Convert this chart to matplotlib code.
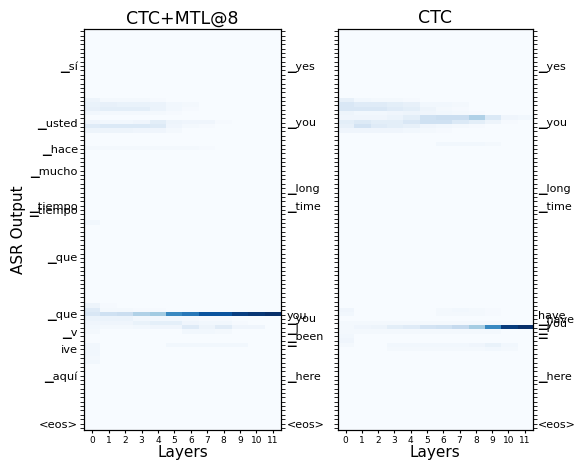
import numpy as np
import matplotlib
matplotlib.use("Agg")
import matplotlib.pyplot as plt

n_frames = 92  # rows (frames)
layers = list(range(12))

# tick labels: (row, text)
asr_rows = [8, 21, 27, 32, 40, 41, 52, 65, 69, 73, 79, 90]
asr_labels = ['\u2581sí', '\u2581usted', '\u2581hace', '\u2581mucho', '\u2581tiempo', '\u2581tiempo',
              '\u2581que', '\u2581que', '\u2581v', 'ive', '\u2581aquí', '<eos>']

mtl_rows = [8, 21, 36, 40, 65, 66, 68, 70, 71, 79, 90]
mtl_labels = ['\u2581yes', '\u2581you', '\u2581long', '\u2581time', 'you', '\u2581you', '\u2581I',
              '\u2581been', '\u2581', '\u2581here', '<eos>']

ctc_rows = [8, 21, 36, 40, 65, 66, 67, 68, 69, 79, 90]
ctc_labels = ['\u2581yes', '\u2581you', '\u2581long', '\u2581time', 'have', '\u2581have', '\u2581you',
              '\u2581I', '\u2581', '\u2581here', '<eos>']

# attention-like weights per row, layers 0..11 (rows not listed are ~0)
mtl_vals = {
    16: [0.05, 0.02, 0.02, 0.02, 0.01, 0, 0, 0, 0, 0, 0, 0],
    17: [0.07, 0.08, 0.07, 0.07, 0.06, 0.03, 0.02, 0, 0, 0, 0, 0],
    18: [0.08, 0.10, 0.10, 0.10, 0.06, 0.03, 0.01, 0, 0, 0, 0, 0],
    19: [0.03, 0.02, 0.02, 0.02, 0.02, 0.01, 0, 0, 0, 0, 0, 0],
    21: [0.04, 0.03, 0.03, 0.04, 0.10, 0.05, 0.04, 0.04, 0.01, 0, 0, 0],
    22: [0.12, 0.14, 0.14, 0.14, 0.13, 0.04, 0.02, 0.01, 0, 0, 0, 0],
    23: [0.05, 0.05, 0.05, 0.04, 0.04, 0.02, 0, 0, 0, 0, 0, 0],
    27: [0.02, 0.02, 0.02, 0.02, 0.02, 0.02, 0.02, 0.01, 0, 0, 0, 0],
    44: [0.03, 0, 0, 0, 0, 0, 0, 0, 0, 0, 0, 0],
    63: [0.05, 0.01, 0, 0, 0, 0, 0, 0, 0, 0, 0, 0],
    64: [0.12, 0.02, 0.02, 0.01, 0.01, 0, 0, 0, 0, 0, 0, 0],
    65: [0.15, 0.20, 0.22, 0.32, 0.36, 0.66, 0.72, 0.86, 0.86, 0.94, 0.97, 1.0],
    66: [0.06, 0.06, 0.06, 0.03, 0.03, 0.03, 0.02, 0.01, 0.01, 0, 0, 0],
    67: [0.04, 0.04, 0.04, 0.07, 0.09, 0.09, 0.04, 0.03, 0.03, 0.01, 0, 0],
    68: [0.03, 0.02, 0.02, 0.03, 0.04, 0.04, 0.12, 0.05, 0.11, 0.04, 0.04, 0],
    69: [0.02, 0, 0, 0, 0, 0, 0.03, 0.03, 0.02, 0, 0, 0],
    72: [0.03, 0, 0, 0, 0, 0.03, 0.03, 0.03, 0.03, 0.03, 0, 0],
    73: [0.03, 0, 0, 0, 0, 0, 0, 0, 0, 0, 0, 0],
    74: [0.03, 0, 0, 0, 0, 0, 0, 0, 0, 0, 0, 0],
    75: [0.02, 0, 0, 0, 0, 0, 0, 0, 0, 0, 0, 0],
    76: [0.03, 0, 0, 0, 0, 0, 0, 0, 0, 0, 0, 0],
}

ctc_vals = {
    16: [0.08, 0.03, 0.02, 0.02, 0.01, 0, 0, 0, 0, 0, 0, 0],
    17: [0.15, 0.12, 0.12, 0.10, 0.08, 0.03, 0.03, 0.02, 0, 0, 0, 0],
    18: [0.15, 0.15, 0.15, 0.12, 0.10, 0.05, 0.02, 0.01, 0, 0, 0, 0],
    19: [0.05, 0.03, 0.03, 0.04, 0.05, 0.04, 0.03, 0.02, 0.01, 0, 0, 0],
    20: [0.04, 0.04, 0.04, 0.06, 0.10, 0.20, 0.22, 0.22, 0.32, 0.14, 0.04, 0.03],
    21: [0.10, 0.13, 0.10, 0.10, 0.15, 0.20, 0.20, 0.14, 0.10, 0.05, 0.01, 0],
    22: [0.08, 0.18, 0.12, 0.10, 0.08, 0.04, 0.03, 0.02, 0.01, 0, 0, 0],
    23: [0.04, 0.04, 0.04, 0.04, 0.03, 0.02, 0.01, 0, 0, 0, 0, 0],
    26: [0, 0, 0, 0, 0, 0, 0.03, 0.03, 0.03, 0.02, 0, 0],
    64: [0.04, 0, 0, 0, 0, 0, 0.02, 0.03, 0.02, 0.01, 0, 0],
    65: [0.03, 0, 0, 0, 0, 0, 0.02, 0.02, 0.02, 0.01, 0, 0],
    67: [0.02, 0.02, 0.02, 0.02, 0.02, 0.02, 0.02, 0.02, 0.02, 0.02, 0.01, 0],
    68: [0.02, 0.04, 0.05, 0.10, 0.12, 0.18, 0.20, 0.25, 0.35, 0.66, 0.95, 1.0],
    69: [0.02, 0.02, 0.02, 0.02, 0.02, 0.02, 0.02, 0.02, 0.02, 0.02, 0, 0],
    70: [0.03, 0, 0, 0, 0, 0, 0, 0, 0, 0, 0, 0],
    71: [0.04, 0, 0, 0, 0, 0, 0, 0, 0, 0, 0, 0],
    72: [0.02, 0, 0, 0.03, 0.03, 0.03, 0.03, 0.03, 0.04, 0.07, 0.03, 0],
    73: [0, 0, 0, 0.02, 0.02, 0.02, 0.02, 0.02, 0.02, 0.03, 0.02, 0],
}


def build(vals):
    m = np.zeros((n_frames, len(layers)))
    for r, v in vals.items():
        m[r] = v
    return m


fig = plt.figure(figsize=(5.76, 4.61), dpi=100)
ax1 = fig.add_axes([0.146, 0.067, 0.342, 0.870])
ax2 = fig.add_axes([0.586, 0.067, 0.339, 0.870])

panels = [(ax1, mtl_vals, 'CTC+MTL@8', asr_rows, asr_labels, mtl_rows, mtl_labels),
          (ax2, ctc_vals, 'CTC', None, None, ctc_rows, ctc_labels)]

for ax, vals, title, lrows, llabels, rrows, rlabels in panels:
    ax.imshow(build(vals), cmap='Blues', vmin=0, vmax=1, aspect='auto',
              interpolation='nearest')
    ax.set_title(title, fontsize=12.5, pad=4)
    ax.set_xticks(layers)
    ax.set_xticklabels([str(i) for i in layers], fontsize=6.5)
    ax.set_xlabel('Layers', fontsize=11, labelpad=0)
    ax.set_yticks(range(n_frames), minor=True)
    if lrows is not None:
        ax.set_yticks(lrows)
        ax.set_yticklabels(llabels, fontsize=8.2)
    else:
        ax.set_yticks([])
    ax.tick_params(axis='y', which='both', length=3, width=0.6, pad=1.5)
    ax.tick_params(axis='x', length=2, pad=2)

    tw = ax.twinx()
    tw.set_ylim(ax.get_ylim())
    tw.set_yticks(range(n_frames), minor=True)
    tw.set_yticks(rrows)
    tw.set_yticklabels(rlabels, fontsize=8)
    tw.tick_params(axis='y', which='both', length=3, width=0.6, pad=1)

ax1.set_ylabel('ASR Output', fontsize=11, labelpad=2)

plt.savefig('out.png', dpi=100)
plt.close('all')
